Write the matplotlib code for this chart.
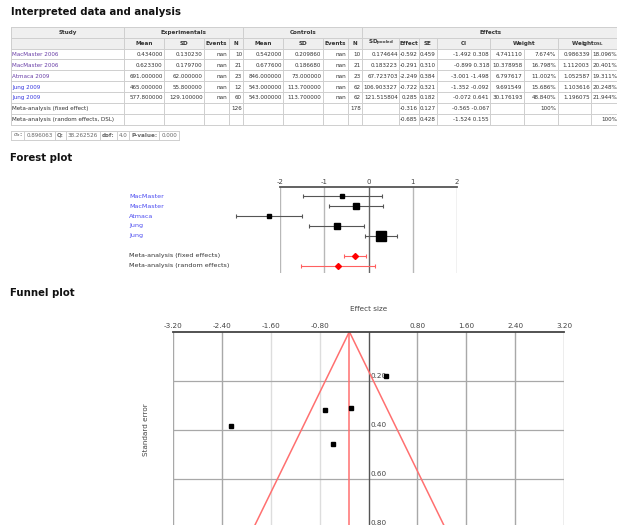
import numpy as np
import matplotlib
matplotlib.use("Agg")
import matplotlib.pyplot as plt
from matplotlib import transforms

# ---------------- data ----------------
studies = ["MacMaster 2006", "MacMaster 2006", "Atmaca 2009", "Jung 2009", "Jung 2009"]
study_colors = ["#6a3fa8", "#6a3fa8", "#6a3fa8", "#3a3ae0", "#3a3ae0"]
exp_mean = [0.434, 0.6233, 691.0, 465.0, 577.8]
exp_sd = [0.13023, 0.1797, 62.0, 55.8, 129.1]
exp_n = [10, 21, 23, 12, 60]
ctrl_mean = [0.542, 0.6776, 846.0, 543.0, 543.0]
ctrl_sd = [0.20986, 0.18668, 73.0, 113.7, 113.7]
ctrl_n = [10, 21, 23, 62, 62]
sd_pooled = [0.174644, 0.183223, 67.723703, 106.903327, 121.515804]
effect = [-0.592, -0.291, -2.249, -0.722, 0.285]
se = [0.459, 0.310, 0.384, 0.321, 0.182]
ci_low = [-1.492, -0.899, -3.001, -1.352, -0.072]
ci_high = [0.308, 0.318, -1.498, -0.092, 0.641]
weight = [4.741110, 10.378958, 6.797617, 9.691549, 30.176193]
weight_pct = [7.674, 16.798, 11.002, 15.686, 48.840]
weight_dsl = [0.986339, 1.112003, 1.052587, 1.103616, 1.196075]
weight_dsl_pct = [18.096, 20.401, 19.311, 20.248, 21.944]
meta_labels_table = ["Meta-analysis (fixed effect)", "Meta-analysis (random effects, DSL)"]
meta_labels_forest = ["Meta-analysis (fixed effects)", "Meta-analysis (random effects)"]
meta_effect = [-0.316, -0.685]
meta_se = [0.127, 0.428]
meta_ci_low = [-0.565, -1.524]
meta_ci_high = [-0.067, 0.155]
stat_labels = [r"$\sigma_a$:", "Q:", "dof:", "P-value:"]
stat_values = ["0.896063", "38.262526", "4.0", "0.000"]
forest_ticks = [-2, -1, 0, 1, 2]
funnel_ticks = [-3.2, -2.4, -1.6, -0.8, 0.8, 1.6, 2.4, 3.2]
funnel_se_ticks = [0.2, 0.4, 0.6, 0.8]

# ---------------- figure ----------------
W, H = 617, 525
fig = plt.figure(figsize=(W / 100, H / 100), dpi=100)
fig.patch.set_facecolor("white")
bg = fig.add_axes([0, 0, 1, 1])
bg.set_xlim(0, W)
bg.set_ylim(H, 0)
bg.axis("off")
renderer = fig.canvas.get_renderer()


def px_axes(x0, y0, x1, y1):
    return fig.add_axes([x0 / W, 1 - y1 / H, (x1 - x0) / W, (y1 - y0) / H])


def fit_text(x, y, s, width, **kw):
    t = bg.text(x, y, s, fontsize=10, **kw)
    w = t.get_window_extent(renderer).width
    t.set_fontsize(10 * width / w)
    return t


HEAD_COLOR = "#111111"
fit_text(10.7, 15.2, "Interpreted data and analysis", 171, fontweight="heavy",
         color=HEAD_COLOR, va="baseline")
fit_text(10.3, 160.8, "Forest plot", 62.5, fontweight="heavy", color=HEAD_COLOR, va="baseline")
fit_text(10.3, 296.5, "Funnel plot", 64, fontweight="heavy", color=HEAD_COLOR, va="baseline")

# ---------------- table ----------------
cols = [10.7, 124.3, 164, 204, 228.7, 243.3, 283.3, 322.7, 347.7, 362, 399, 419,
        437, 490.3, 523.8, 557.5, 591, 618.6]
row_top = 26.7
row_h = 10.92
nrows = 9
rows_y = [row_top + i * row_h for i in range(nrows + 1)]
BORDER = "#cfcfcf"
TXT = "#333333"
FS = 4.05

bg.add_patch(plt.Rectangle((cols[0], rows_y[0]), cols[-1] - cols[0], 2 * row_h,
                           facecolor="#efefef", edgecolor="none", zorder=0))
for y in rows_y:
    bg.plot([cols[0], cols[-1]], [y, y], color=BORDER, lw=0.7, zorder=1)


def vlines(r, xs):
    for x in xs:
        bg.plot([x, x], [rows_y[r], rows_y[r + 1]], color=BORDER, lw=0.7, zorder=1)


vlines(0, [cols[0], cols[1], cols[5], cols[9], cols[-1]])
vlines(1, [c for i, c in enumerate(cols) if i not in (14, 16)])
for r in range(2, nrows):
    vlines(r, cols)


def cell(r, c0, c1, s, align="right", color=TXT, bold=False, fs=FS):
    yc = (rows_y[r] + rows_y[r + 1]) / 2 + 0.3
    if align == "right":
        x, ha = cols[c1] - 1.3, "right"
    elif align == "left":
        x, ha = cols[c0] + 1.6, "left"
    else:
        x, ha = (cols[c0] + cols[c1]) / 2, "center"
    bg.text(x, yc, s, ha=ha, va="center", fontsize=fs, color=color,
            fontweight="bold" if bold else "normal", zorder=2)


cell(0, 0, 1, "Study", "center", bold=True)
cell(0, 1, 5, "Experimentals", "center", bold=True)
cell(0, 5, 9, "Controls", "center", bold=True)
cell(0, 9, 17, "Effects", "center", bold=True)
hdr = ["Mean", "SD", "Events", "N", "Mean", "SD", "Events", "N",
       r"SD$_{\mathbf{pooled}}$", "Effect", "SE", "CI"]
for i, h in enumerate(hdr):
    cell(1, i + 1, i + 2, h, "center", bold=True)
cell(1, 13, 15, "Weight", "center", bold=True)
cell(1, 15, 17, r"Weight$_{\mathbf{DSL}}$", "center", bold=True)

for i in range(len(studies)):
    r = i + 2
    cell(r, 0, 1, studies[i], "left", color=study_colors[i])
    vals = [f"{exp_mean[i]:.6f}", f"{exp_sd[i]:.6f}", "nan", f"{exp_n[i]}",
            f"{ctrl_mean[i]:.6f}", f"{ctrl_sd[i]:.6f}", "nan", f"{ctrl_n[i]}",
            f"{sd_pooled[i]:.6f}", f"{effect[i]:.3f}", f"{se[i]:.3f}",
            f"{ci_low[i]:.3f} {ci_high[i]:.3f}", f"{weight[i]:.6f}", f"{weight_pct[i]:.3f}%",
            f"{weight_dsl[i]:.6f}", f"{weight_dsl_pct[i]:.3f}%"]
    for j, v in enumerate(vals):
        cell(r, j + 1, j + 2, v)

for k in range(2):
    r = 7 + k
    cell(r, 0, 1, meta_labels_table[k], "left")
    if k == 0:
        cell(r, 4, 5, f"{sum(exp_n)}")
        cell(r, 8, 9, f"{sum(ctrl_n)}")
        cell(r, 14, 15, "100%")
    else:
        cell(r, 16, 17, "100%")
    cell(r, 10, 11, f"{meta_effect[k]:.3f}")
    cell(r, 11, 12, f"{meta_se[k]:.3f}")
    cell(r, 12, 13, f"{meta_ci_low[k]:.3f} {meta_ci_high[k]:.3f}")

# ---------------- stats line ----------------
sy0, sy1 = 130.5, 139.8
x = 10.7
edges = [x]
for lab, val in zip(stat_labels, stat_values):
    for s, b in ((lab, True), (val, False)):
        t = bg.text(x + 2.0, (sy0 + sy1) / 2 + 0.3, s, ha="left", va="center", fontsize=4.1,
                    color="#666666", fontweight="bold" if b else "normal")
        w = t.get_window_extent(renderer).width
        x = x + w + 4.0
        edges.append(x)
for e in edges:
    bg.plot([e, e], [sy0, sy1], color=BORDER, lw=0.7)
bg.plot([edges[0], edges[-1]], [sy0, sy0], color=BORDER, lw=0.7)
bg.plot([edges[0], edges[-1]], [sy1, sy1], color=BORDER, lw=0.7)

# ---------------- forest plot ----------------
fa = px_axes(280.3, 186.7, 456.7, 273.3)
fa.set_xlim(-2, 2)
fa.set_ylim(7.73, -0.93)
fa.patch.set_visible(False)
for sp in ["left", "right", "bottom"]:
    fa.spines[sp].set_visible(False)
fa.spines["top"].set_color("#555555")
fa.spines["top"].set_linewidth(1.3)
fa.xaxis.tick_top()
fa.set_xticks(forest_ticks)
fa.set_xticklabels([str(t) for t in forest_ticks])
fa.tick_params(axis="x", length=0, pad=1.2, labelsize=5.0, labelcolor="#444444")
fa.set_yticks([])
for v in forest_ticks:
    if v == 0:
        fa.axvline(v, color="#666666", lw=1.0, zorder=0)
    else:
        fa.axvline(v, color="#b8b8b8", lw=1.0, zorder=0)

study_rows = list(range(len(studies)))
meta_rows = [6, 7]
lab_tr = fa.get_yaxis_transform()
for i, r in enumerate(study_rows):
    ms = 1.9 * np.sqrt(weight[i]) * 0.72
    fa.errorbar([effect[i]], [r], xerr=[[effect[i] - ci_low[i]], [ci_high[i] - effect[i]]],
                fmt="s", color="black", ecolor="#555555", elinewidth=0.8, capsize=1.6,
                capthick=0.8, markersize=ms, clip_on=False, zorder=3)
    fa.text(-0.858, r, studies[i].split()[0], transform=lab_tr, ha="left", va="center",
            fontsize=4.6, color="#4b4bf0", clip_on=False)
for k, r in enumerate(meta_rows):
    fa.errorbar([meta_effect[k]], [r],
                xerr=[[meta_effect[k] - meta_ci_low[k]], [meta_ci_high[k] - meta_effect[k]]],
                fmt="D", color="#ff0000", ecolor="#ff6060", elinewidth=0.8, capsize=1.6,
                capthick=0.8, markersize=3.0, clip_on=False, zorder=3)
    fa.text(-0.858, r, meta_labels_forest[k], transform=lab_tr, ha="left", va="center",
            fontsize=4.6, color="#333333", clip_on=False)

# ---------------- funnel plot ----------------
fu = px_axes(173.3, 331.7, 564.0, 331.7 + 49 * 5)
fu.set_xlim(-3.2, 3.2)
fu.set_ylim(1.0, 0.0)
fu.patch.set_visible(False)
for sp in ["left", "right", "bottom"]:
    fu.spines[sp].set_visible(False)
fu.spines["top"].set_color("#444444")
fu.spines["top"].set_linewidth(1.3)
fu.xaxis.tick_top()
fu.set_xticks(funnel_ticks)
fu.set_xticklabels([f"{t:.2f}" for t in funnel_ticks])
fu.tick_params(axis="x", length=0, pad=1.6, labelsize=5.2, labelcolor="#444444")
fu.set_yticks([])
light = {-1.6, -0.8}
for v in funnel_ticks:
    fu.axvline(v, color="#dddddd" if v in light else "#a8a8a8", lw=1.0, zorder=0)
fu.axvline(0, color="#555555", lw=1.0, zorder=1)
for v in funnel_se_ticks:
    fu.axhline(v, color="#a8a8a8", lw=0.9, zorder=0)
off = transforms.offset_copy(fu.transData, fig=fig, x=2.0, y=1.5, units="dots")
for v in funnel_se_ticks:
    fu.text(0, v, f"{v:.2f}", transform=off, ha="left", va="bottom", fontsize=5.2,
            color="#444444", zorder=2)

se_line = np.array([0.0, 1.0])
fu.plot(meta_effect[0] - 1.96 * se_line, se_line, color="#ff7070", lw=1.1, zorder=2)
fu.plot(meta_effect[0] + 1.96 * se_line, se_line, color="#ff7070", lw=1.1, zorder=2)
fu.plot([meta_effect[0], meta_effect[0]], se_line, color="#ff7070", lw=1.1, zorder=2)
fu.plot(effect, se, "s", color="black", markersize=3.4, zorder=4, clip_on=False)

bg.text(369, 309, "Effect size", ha="center", va="center", fontsize=5.2, color="#444444")
bg.text(146.5, 430, "Standard error", ha="center", va="center", rotation=90,
        fontsize=5.2, color="#444444")

fig.savefig("out.png", dpi=100)
